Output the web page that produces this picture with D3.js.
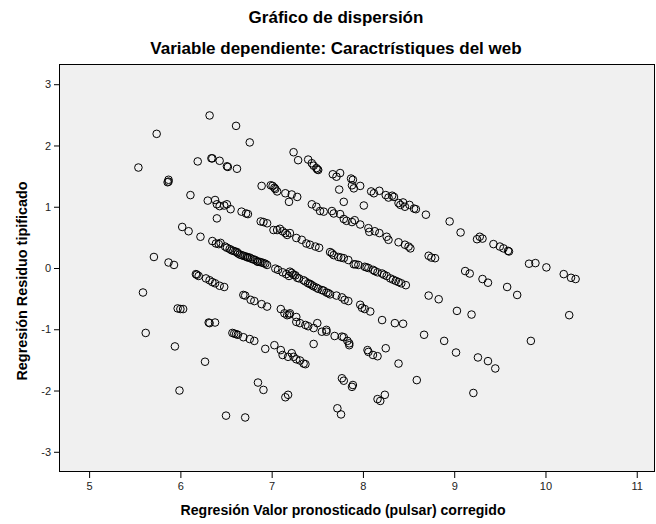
<!DOCTYPE html>
<html><head><meta charset="utf-8">
<script src="https://cdn.jsdelivr.net/npm/d3@7"></script>
<style>
html,body{margin:0;padding:0;background:#fff;}
svg{display:block;font-family:"Liberation Sans",Arial,sans-serif;}
</style></head>
<body><svg id="chart" width="656" height="524"></svg>
<script>
const title = "Gráfico de dispersión";
const subtitle = "Variable dependiente: Caractrístiques del web";
const xTitle = "Regresión Valor pronosticado (pulsar) corregido";
const yTitle = "Regresión Residuo tipificado";
const xTicks = [5, 6, 7, 8, 9, 10, 11];
const yTicks = [-3, -2, -1, 0, 1, 2, 3];

const predicted = [
6.32,6.61,5.74,6.76,5.54,6.19,6.34,6.35,6.43,6.51,6.52,6.62,
5.87,5.86,5.87,6.11,6.30,6.38,6.40,6.43,6.48,6.51,6.55,6.67,
6.72,6.74,6.89,6.99,7.01,7.03,7.04,7.06,7.15,7.19,7.24,7.29,
7.40,7.44,7.46,7.49,7.50,7.51,7.67,7.71,7.75,7.87,7.89,7.88,
7.90,7.97,7.74,7.79,8.01,8.09,8.12,8.18,8.25,8.28,8.32,8.34,
8.39,8.41,8.44,8.46,8.51,8.56,8.58,8.69,7.22,7.28,7.44,7.49,
7.53,7.57,7.66,7.68,7.75,6.40,6.88,6.91,6.95,7.02,7.06,7.09,
7.12,7.15,7.17,6.02,6.09,6.22,6.35,6.39,6.42,6.44,6.49,6.51,
6.54,6.58,6.62,6.65,6.69,6.73,6.76,6.80,6.84,6.87,6.91,6.95,
6.56,6.60,6.63,6.67,6.71,6.74,6.78,6.82,6.85,6.89,6.93,7.04,
7.07,7.12,7.16,7.19,5.71,5.87,5.93,6.17,6.18,6.20,6.28,6.32,
6.35,6.38,6.43,6.48,5.59,6.69,6.71,6.77,6.81,6.89,6.95,7.10,
7.14,7.17,7.19,5.97,6.00,6.03,7.79,7.82,7.88,7.91,7.97,8.06,
8.07,8.13,8.18,8.26,8.28,8.39,8.46,8.50,8.52,8.95,8.72,8.75,
8.79,7.20,7.27,7.33,7.38,7.42,7.48,7.52,7.64,7.68,7.73,7.79,
7.84,7.90,7.95,8.02,8.06,8.11,8.16,8.21,8.26,8.30,8.36,8.42,
8.47,7.20,7.24,7.28,7.35,7.40,7.44,7.49,7.55,7.60,7.64,7.22,
7.26,7.30,7.37,7.42,7.46,7.51,7.57,7.62,7.66,7.76,7.92,8.04,
8.13,8.23,8.33,8.39,7.71,7.77,7.80,7.84,7.97,7.99,8.02,8.08,
8.72,8.83,7.20,7.27,9.07,9.25,9.28,9.31,9.43,9.50,9.54,9.59,
9.60,9.82,9.89,10.01,10.20,10.28,10.33,9.12,9.17,9.31,9.37,9.58,
9.69,9.03,9.19,10.26,5.62,5.94,6.27,5.99,6.50,6.71,6.31,6.32,
6.38,6.57,6.59,6.61,6.63,6.69,6.76,6.81,6.93,7.03,7.10,7.12,
7.18,6.85,6.91,7.15,7.18,7.27,7.31,7.37,7.40,7.46,7.50,7.55,
7.60,7.60,7.69,7.77,7.79,7.83,7.85,7.85,8.21,8.35,8.44,8.67,
8.89,7.46,8.05,8.06,8.11,8.16,8.25,8.39,8.59,7.22,7.24,7.27,
7.31,7.35,7.37,7.77,7.79,7.88,7.89,8.16,8.19,8.24,7.72,7.76,
9.02,9.26,9.37,9.45,9.84,9.21
];
const residual = [
2.49,2.32,2.19,2.05,1.64,1.74,1.79,1.79,1.75,1.66,1.65,1.62,
1.44,1.40,1.41,1.19,1.10,1.11,1.04,1.01,1.02,1.04,0.96,0.92,
0.89,0.88,1.34,1.35,1.34,1.31,1.29,1.25,1.22,1.08,1.89,1.76,
1.77,1.71,1.67,1.63,1.61,1.60,1.53,1.49,1.55,1.46,1.44,1.35,
1.30,1.34,1.28,1.08,1.02,1.25,1.22,1.26,1.19,1.15,1.18,1.16,
1.06,1.03,1.07,1.00,1.03,0.97,0.96,0.87,1.20,1.16,1.04,1.00,
0.93,0.92,0.93,0.89,0.88,0.81,0.76,0.75,0.73,0.62,0.62,0.64,
0.60,0.57,0.54,0.67,0.60,0.51,0.44,0.40,0.39,0.41,0.35,0.33,
0.31,0.28,0.26,0.22,0.20,0.18,0.17,0.14,0.11,0.10,0.08,0.05,
0.29,0.27,0.24,0.21,0.19,0.17,0.15,0.13,0.10,0.09,0.07,-0.01,
-0.03,-0.07,-0.10,-0.13,0.18,0.09,0.05,-0.10,-0.11,-0.13,-0.17,-0.20,
-0.23,-0.25,-0.29,-0.31,-0.40,-0.44,-0.45,-0.52,-0.54,-0.59,-0.63,-0.67,
-0.74,-0.77,-0.76,-0.66,-0.67,-0.67,0.80,0.77,0.75,0.78,0.71,0.65,
0.59,0.60,0.57,0.51,0.46,0.42,0.38,0.35,0.32,0.76,0.20,0.17,
0.16,0.57,0.49,0.46,0.40,0.38,0.35,0.33,0.26,0.21,0.18,0.16,
0.13,0.06,0.05,0.02,0.00,-0.03,-0.07,-0.09,-0.13,-0.17,-0.21,-0.25,
-0.28,-0.06,-0.11,-0.16,-0.20,-0.25,-0.28,-0.32,-0.36,-0.40,-0.43,-0.08,
-0.12,-0.17,-0.22,-0.26,-0.30,-0.34,-0.37,-0.41,0.24,0.17,0.06,0.01,
-0.05,-0.11,-0.19,-0.23,-0.45,-0.48,-0.52,-0.54,-0.60,-0.65,-0.67,-0.71,
-0.45,-0.51,-0.74,-0.80,0.58,0.47,0.51,0.48,0.39,0.35,0.32,0.28,
0.27,0.07,0.08,0.01,-0.10,-0.16,-0.18,-0.05,-0.09,-0.18,-0.24,-0.31,
-0.44,-0.70,-0.76,-0.77,-1.06,-1.28,-1.53,-2.00,-2.41,-2.44,-0.89,-0.90,
-0.89,-1.06,-1.07,-1.08,-1.09,-1.13,-1.16,-1.19,-1.32,-1.26,-1.34,-1.42,
-1.45,-1.87,-1.99,-2.11,-2.07,-0.88,-0.90,-0.93,-0.95,-0.98,-0.90,-1.04,
-1.04,-1.01,-1.11,-1.12,-1.13,-1.19,-1.23,-1.26,-0.85,-0.90,-0.91,-1.09,
-1.19,-1.24,-1.34,-1.37,-1.42,-1.44,-1.31,-1.56,-1.83,-1.39,-1.45,-1.49,
-1.51,-1.56,-1.57,-1.80,-1.84,-1.94,-1.91,-2.14,-2.17,-2.07,-2.29,-2.39,
-1.38,-1.46,-1.52,-1.64,-1.19,-2.04
];
if (predicted.length !== residual.length) throw new Error("length mismatch " + predicted.length + " vs " + residual.length);

const points = predicted.map((p, i) => ({x: p, y: residual[i]}));

const svg = d3.select("#chart");
const L = 59, R = 655, T = 64, B = 472;

const x = d3.scaleLinear().domain([4.67, 11.2]).range([L, R]);
const y = d3.scaleLinear().domain([-3.33, 3.33]).range([B, T]);

svg.append("rect").attr("x", L).attr("y", T).attr("width", R - L).attr("height", B - T)
  .attr("fill", "#f0f0f0");

svg.append("g").selectAll("circle").data(points).join("circle")
  .attr("cx", d => x(d.x)).attr("cy", d => y(d.y)).attr("r", 3.8)
  .attr("fill", "none").attr("stroke", "#000").attr("stroke-width", 1);

svg.append("rect").attr("x", L + 0.5).attr("y", T + 0.5).attr("width", R - L - 1).attr("height", B - T - 1)
  .attr("fill", "none").attr("stroke", "#000").attr("stroke-width", 1);

const fmt = d => String(d);

const xAxis = svg.append("g").attr("transform", `translate(0,${B})`)
  .call(d3.axisBottom(x).tickValues(xTicks).tickSize(6).tickPadding(4).tickFormat(fmt));
xAxis.select(".domain").remove();
xAxis.selectAll("line").attr("stroke", "#000");
xAxis.selectAll("text").attr("font-size", 11).attr("fill", "#222").attr("font-family", "Liberation Sans, Arial, sans-serif");

const yAxis = svg.append("g").attr("transform", `translate(${L},0)`)
  .call(d3.axisLeft(y).tickValues(yTicks).tickSize(5).tickPadding(3).tickFormat(fmt));
yAxis.select(".domain").remove();
yAxis.selectAll("line").attr("stroke", "#000");
yAxis.selectAll("text").attr("font-size", 11).attr("fill", "#222").attr("font-family", "Liberation Sans, Arial, sans-serif");

svg.append("text").attr("x", 336).attr("y", 23).attr("text-anchor", "middle")
  .attr("font-size", 17).attr("font-weight", "bold").text(title);
svg.append("text").attr("x", 336).attr("y", 54).attr("text-anchor", "middle")
  .attr("font-size", 17).attr("font-weight", "bold").text(subtitle);
svg.append("text").attr("x", 343).attr("y", 515).attr("text-anchor", "middle")
  .attr("font-size", 14.1).attr("font-weight", "bold").text(xTitle);
svg.append("text").attr("transform", "translate(27,281) rotate(-90)").attr("text-anchor", "middle")
  .attr("font-size", 14.4).attr("font-weight", "bold").text(yTitle);
</script></body></html>
